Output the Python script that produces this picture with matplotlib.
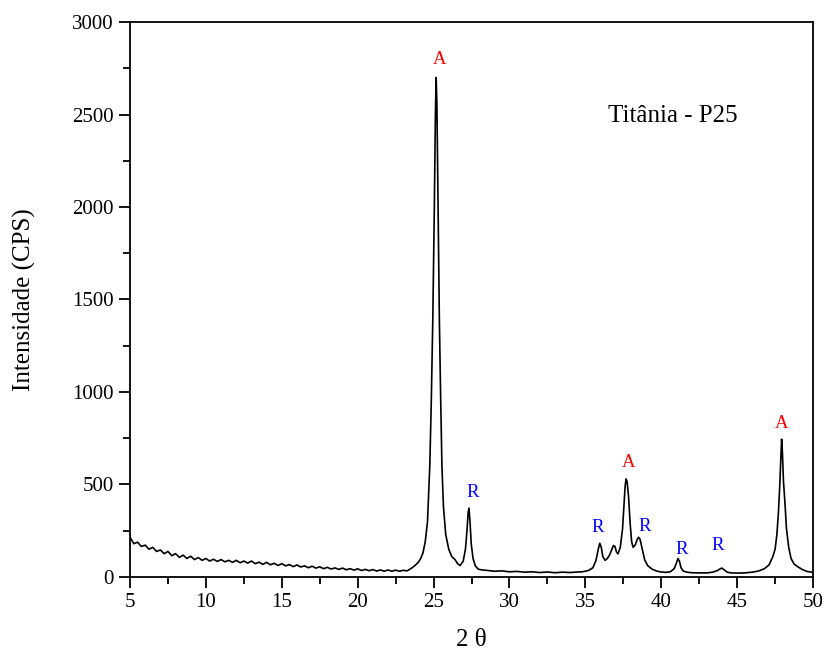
"""Difratograma de raios X da titânia P25 (anatase A / rutilo R)."""

import matplotlib
matplotlib.use("Agg")
import matplotlib.pyplot as plt
from matplotlib.ticker import MultipleLocator

# 2theta (graus) e intensidade (CPS), 10 pontos por linha
two_theta = [
    5.0, 5.25, 5.5, 5.75, 6.0, 6.25, 6.5, 6.75, 7.0, 7.25,
    7.5, 7.75, 8.0, 8.25, 8.5, 8.75, 9.0, 9.25, 9.5, 9.75,
    10.0, 10.25, 10.5, 10.75, 11.0, 11.25, 11.5, 11.75, 12.0, 12.25,
    12.5, 12.75, 13.0, 13.25, 13.5, 13.75, 14.0, 14.25, 14.5, 14.75,
    15.0, 15.25, 15.5, 15.75, 16.0, 16.25, 16.5, 16.75, 17.0, 17.25,
    17.5, 17.75, 18.0, 18.25, 18.5, 18.75, 19.0, 19.25, 19.5, 19.75,
    20.0, 20.25, 20.5, 20.75, 21.0, 21.25, 21.5, 21.75, 22.0, 22.25,
    22.5, 22.75, 23.0, 23.25, 23.5,
    23.75, 24.0, 24.15, 24.3, 24.45, 24.6, 24.75, 24.85, 24.95, 25.05,
    25.12, 25.17, 25.22, 25.3, 25.38, 25.46, 25.55, 25.65, 25.8, 26.0,
    26.2, 26.4, 26.6, 26.75, 26.95, 27.1, 27.2, 27.28, 27.33, 27.4,
    27.48, 27.6, 27.75, 27.95, 28.2, 28.5, 29.0, 29.5, 30.0, 30.5,
    31.0, 31.5, 32.0, 32.5, 33.0, 33.5, 34.0, 34.5, 34.8, 35.2,
    35.5, 35.7, 35.85, 35.95, 36.05, 36.15, 36.3, 36.45, 36.6, 36.75,
    36.85, 36.95, 37.05, 37.15, 37.3, 37.45, 37.55, 37.62, 37.68, 37.75,
    37.85, 37.95, 38.05, 38.15, 38.3, 38.4, 38.5, 38.6, 38.75, 38.9,
    39.1, 39.4, 39.7, 40.0, 40.3, 40.6, 40.85, 41.0, 41.1, 41.2,
    41.3, 41.45, 41.7, 42.0, 42.5, 43.0, 43.4, 43.7, 43.9, 44.0,
    44.15, 44.35, 44.6, 45.0, 45.5, 46.0, 46.4, 46.8, 47.1, 47.35,
    47.5, 47.62, 47.72, 47.8, 47.88, 47.93, 47.98, 48.05, 48.15, 48.25,
    48.4, 48.55, 48.75, 49.0, 49.3, 49.6, 50.0,
]
intensity = [
    215, 180, 188, 165, 172, 150, 160, 138, 146, 126,
    138, 115, 126, 106, 118, 100, 112, 94, 105, 90,
    100, 86, 96, 84, 94, 82, 90, 79, 90, 77,
    86, 75, 86, 72, 80, 68, 79, 66, 74, 62,
    72, 60, 67, 56, 65, 54, 60, 50, 58, 48,
    55, 45, 52, 43, 49, 41, 48, 39, 45, 37,
    44, 35, 41, 34, 40, 32, 38, 31, 38, 31,
    37, 31, 36, 33, 45,
    60, 80, 100, 130, 190, 300, 600, 950, 1400, 2000,
    2500, 2700, 2550, 2000, 1400, 1000, 600, 380, 230, 150,
    110, 95, 70, 62, 85, 150, 250, 350, 372, 300,
    180, 100, 60, 42, 38, 36, 31, 33, 28, 30,
    26, 28, 24, 27, 23, 26, 24, 27, 28, 35,
    50, 90, 150, 182, 160, 110, 90, 100, 120, 150,
    170, 165, 135, 125, 160, 260, 400, 490, 530, 515,
    430, 290, 190, 160, 175, 200, 215, 205, 150, 95,
    62, 42, 32, 27, 25, 28, 45, 75, 100, 85,
    50, 32, 26, 23, 22, 22, 26, 35, 45, 48,
    38, 26, 22, 21, 22, 26, 32, 45, 65, 110,
    150, 230, 350, 480, 650, 745, 680, 520, 400, 260,
    160, 100, 70, 55, 40, 30, 25,
]

# rótulos das fases: A = anatase, R = rutilo
phase_labels = ["A", "R", "R", "A", "R", "R", "R", "A"]
phase_x = [25.42, 27.6, 35.83, 37.87, 38.93, 41.36, 43.74, 47.95]
phase_y = [2795, 454, 270, 618, 272, 151, 168, 832]

plt.rcParams["font.family"] = ["Liberation Serif", "DejaVu Serif"]

fig = plt.figure(figsize=(8.26, 6.57), dpi=100)
ax = fig.add_axes([0.1574, 0.1218, 0.8269, 0.8447])

ax.plot(two_theta, intensity, color="black", lw=1.2)

colors = {"A": "red", "R": "blue"}
for lab, x, y in zip(phase_labels, phase_x, phase_y):
    ax.text(x, y, lab, color=colors[lab], fontsize=13.5, ha="center", va="center")

ax.text(40.77, 2490, "Titânia - P25", fontsize=18, ha="center", va="center")

ax.set_xlim(5, 50)
ax.set_ylim(0, 3000)
ax.xaxis.set_major_locator(MultipleLocator(5))
ax.xaxis.set_minor_locator(MultipleLocator(2.5))
ax.yaxis.set_major_locator(MultipleLocator(500))
ax.yaxis.set_minor_locator(MultipleLocator(250))
ax.tick_params(which="both", direction="out", labelsize=15, width=1.3)
ax.tick_params(which="major", length=8)
ax.tick_params(which="minor", length=5)
for s in ax.spines.values():
    s.set_linewidth(1.3)

ax.set_xlabel("2 θ", fontsize=18, labelpad=12)
ax.set_ylabel("Intensidade (CPS)", fontsize=18, labelpad=26)

fig.savefig("out.png", dpi=100)
